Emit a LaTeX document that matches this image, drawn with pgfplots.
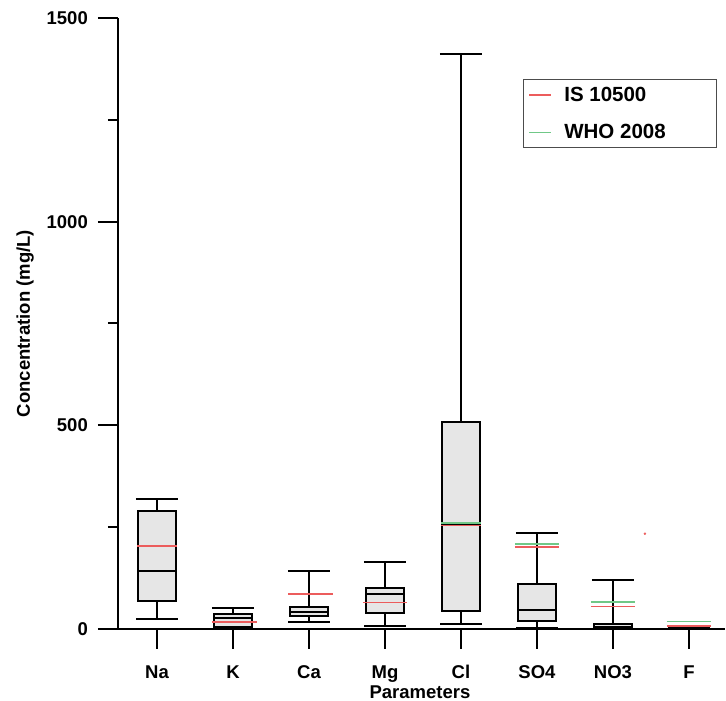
\documentclass[border=0pt]{standalone}
\usepackage{fontspec}
\setmainfont{Liberation Sans}
\usepackage{pgfplots}
\usepackage{pgfplotstable}
\pgfplotsset{compat=1.18}

\definecolor{isred}{RGB}{236,92,92}
\definecolor{whogreen}{RGB}{112,200,135}
\definecolor{boxfill}{RGB}{230,230,230}
\newcommand{\lbl}{\fontsize{18.5}{22}\selectfont\bfseries}

% box statistics per parameter (mg/L)
\pgfplotstableread{
pos lw lq med uq uw
0 24 69 142 290 319
1 1 6 28 38 51
2 16 32 42.5 53 143
3 8 38.5 85 101 164
4 12 44 257 508 1412
5 2 19.6 47.5 110 235
6 0 1 4 12.3 121
7 0.2 0.5 1 1.5 2
}\boxes

% standard limits, one short segment per parameter
\pgfplotstableread{
x y
-0.26 204
0.26 204
nan nan
0.73 18
1.31 18
nan nan
1.73 85
2.31 85
nan nan
2.71 65
3.29 65
nan nan
3.74 254
4.26 254
nan nan
4.71 201
5.29 201
nan nan
5.71 55
6.29 55
nan nan
6.71 7.5
7.29 7.5
}\isdata

\pgfplotstableread{
x y
3.74 259.5
4.26 259.5
nan nan
4.71 209.5
5.29 209.5
nan nan
5.71 65.5
6.29 65.5
nan nan
6.71 18.5
7.29 18.5
}\whodata

\begin{document}
\begin{tikzpicture}
\begin{axis}[
  name=ax,
  scale only axis, width=607pt, height=611pt,
  xmin=-0.513, xmax=7.474, ymin=0, ymax=1500,
  axis lines=left,
  x axis line style={-}, y axis line style={-},
  axis line style={line width=2.5pt},
  clip=false,
  xtick={0,...,7},
  xticklabels={Na,K,Ca,Mg,Cl,SO4,NO3,F},
  ytick={0,500,1000,1500},
  minor ytick={250,750,1250},
  tick align=outside,
  major tick length=20pt,
  minor tick length=10pt,
  tick style={line width=2pt, black},
  /pgf/number format/assume math mode=true,
  /pgf/number format/1000 sep={},
  yticklabel style={font=\lbl, anchor=east, inner sep=0pt, xshift=-10pt},
  xticklabel style={font=\lbl, anchor=base, inner sep=0pt, yshift=-30pt},
  ylabel={Concentration (mg/L)},
  xlabel={Parameters},
  ylabel style={font=\lbl, at={(axis description cs:-0.153,0.5)}, anchor=center},
  xlabel style={font=\lbl, at={(axis description cs:0.4975,-0.114)}, anchor=base},
  unbounded coords=jump,
  legend style={at={(axis description cs:0.667,0.900)}, anchor=north west,
    draw=black!70, line width=1.3pt, fill=white,
    font=\fontsize{20.5}{24}\selectfont\bfseries,
    inner xsep=5pt, inner ysep=4pt, row sep=16pt, column sep=9pt,
    nodes={inner sep=3pt}},
  legend cell align=left,
  legend image code/.code={\draw[#1] (0pt,0pt) -- (22pt,0pt);},
  boxst/.style={forget plot, draw=black, fill=boxfill, line width=2pt},
]
% whiskers with caps
\addplot[forget plot, draw=none, mark=none,
  error bars/.cd, y dir=both, y explicit,
  error bar style={draw=black, line width=2pt},
  error mark=|, error mark options={draw=black, line width=2pt, mark size=21pt}]
  table[x=pos, y=med, y error plus expr=\thisrow{uw}-\thisrow{med},
        y error minus expr=\thisrow{med}-\thisrow{lw}] {\boxes};
% boxes (quartiles)
\addplot[boxst] coordinates {(-0.255,69) (0.255,69) (0.255,290) (-0.255,290)} -- cycle;
\addplot[boxst] coordinates {(0.745,6) (1.255,6) (1.255,38) (0.745,38)} -- cycle;
\addplot[boxst] coordinates {(1.745,32) (2.255,32) (2.255,53) (1.745,53)} -- cycle;
\addplot[boxst] coordinates {(2.745,38.5) (3.255,38.5) (3.255,101) (2.745,101)} -- cycle;
\addplot[boxst] coordinates {(3.745,44) (4.255,44) (4.255,508) (3.745,508)} -- cycle;
\addplot[boxst] coordinates {(4.745,19.6) (5.255,19.6) (5.255,110) (4.745,110)} -- cycle;
\addplot[boxst] coordinates {(5.745,1) (6.255,1) (6.255,12.3) (5.745,12.3)} -- cycle;
\addplot[boxst] coordinates {(6.745,0.5) (7.255,0.5) (7.255,1.5) (6.745,1.5)} -- cycle;
% medians
\addplot[forget plot, draw=none, mark=none,
  error bars/.cd, x dir=both, x fixed=0.255, error mark=none,
  error bar style={draw=black, line width=2pt}]
  table[x=pos, y=med] {\boxes};

\addplot[isred, line width=1.8pt] table[x=x, y=y] {\isdata};
\addlegendentry{\makebox[144pt][l]{IS 10500}}
\addplot[whogreen, line width=1.8pt] table[x=x, y=y] {\whodata};
\addlegendentry{\makebox[144pt][l]{WHO 2008}}
\addplot[forget plot, only marks, mark=*, mark size=1pt, isred] coordinates {(6.42,234)};
\end{axis}
\pgfresetboundingbox
\useasboundingbox ([shift={(-118pt,-71pt)}]ax.south west) rectangle ([shift={(1pt,18pt)}]ax.north east);
\end{tikzpicture}
\end{document}
